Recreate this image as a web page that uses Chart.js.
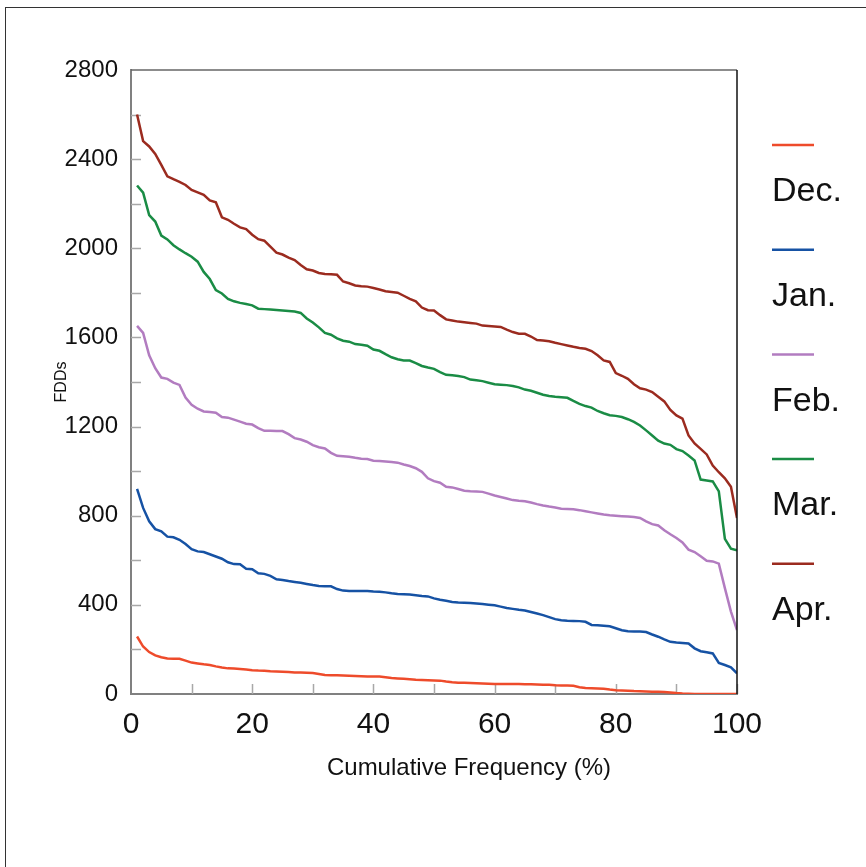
<!DOCTYPE html>
<html>
<head>
<meta charset="utf-8">
<script src="https://cdn.jsdelivr.net/npm/chart.js@4.4.1/dist/chart.umd.min.js"></script>
<style>
  html, body { margin: 0; padding: 0; background: #fff; overflow: hidden; }
  #frame { position: absolute; left: 5px; top: 7px; width: 900px; height: 900px; border: 1px solid #333; }
  #wrap { position: absolute; left: 0; top: 0; width: 866px; height: 867px; }
</style>
</head>
<body>
<div id="frame"></div>
<div id="wrap"><canvas id="chart" width="866" height="867"></canvas></div>
<script>
// cumulative frequency (%) of each ranked value
var FREQ = [
  1, 2, 3, 4, 5, 6, 7, 8, 9, 10, 11, 12, 13, 14, 15, 16, 17, 18, 19, 20,
  21, 22, 23, 24, 25, 26, 27, 28, 29, 30, 31, 32, 33, 34, 35, 36, 37, 38, 39, 40,
  41, 42, 43, 44, 45, 46, 47, 48, 49, 50, 51, 52, 53, 54, 55, 56, 57, 58, 59, 60,
  61, 62, 63, 64, 65, 66, 67, 68, 69, 70, 71, 72, 73, 74, 75, 76, 77, 78, 79, 80,
  81, 82, 83, 84, 85, 86, 87, 88, 89, 90, 91, 92, 93, 94, 95, 96, 97, 98, 99, 100
];

var MONTHS = ['Dec.', 'Jan.', 'Feb.', 'Mar.', 'Apr.'];

var DEC = [
  258, 213, 188, 173, 165, 159, 158, 158, 150, 141, 137, 133, 130, 124, 119, 115, 114, 112, 110, 107,
  105, 104, 102, 101, 100, 99, 97, 96, 95, 94, 90, 85, 84, 84, 83, 82, 81, 80, 79, 78,
  78, 75, 72, 70, 68, 66, 64, 63, 62, 61, 60, 56, 53, 51, 50, 49, 48, 47, 46, 45,
  45, 45, 45, 45, 44, 44, 43, 42, 41, 39, 38, 38, 37, 30, 27, 26, 25, 24, 20, 17,
  16, 15, 13, 12, 11, 10, 10, 9, 7, 4, 2, 1, 0, 0, 0, 0, 0, 0, 0, 0
];

var JAN = [
  920, 835, 775, 740, 730, 706, 703, 692, 673, 650, 640, 637, 627, 617, 607, 591, 583, 582, 562, 560,
  542, 539, 530, 515, 512, 507, 503, 499, 494, 489, 485, 484, 483, 471, 464, 462, 462, 462, 462, 460,
  459, 456, 452, 449, 448, 446, 443, 440, 438, 429, 423, 418, 413, 411, 410, 408, 406, 404, 401, 398,
  392, 386, 382, 378, 375, 368, 361, 354, 345, 336, 331, 329, 328, 327, 324, 310, 308, 306, 304, 295,
  286, 282, 280, 280, 278, 267, 257, 245, 234, 231, 229, 227, 205, 192, 187, 182, 139, 130, 120, 93
];

var FEB = [
  1652, 1620, 1520, 1462, 1420, 1414, 1397, 1387, 1330, 1298, 1280, 1268, 1265, 1262, 1243, 1240, 1231, 1222, 1213, 1209,
  1193, 1181, 1181, 1180, 1180, 1166, 1148, 1142, 1132, 1117, 1107, 1102, 1082, 1069, 1067, 1065, 1060, 1056, 1054, 1047,
  1045, 1043, 1041, 1038, 1030, 1023, 1013, 997, 968, 955, 948, 930, 927, 920, 912, 910, 909, 907, 899, 891,
  884, 877, 870, 867, 865, 859, 852, 846, 841, 837, 831, 830, 829, 825, 820, 815, 810, 805, 802, 800,
  798, 796, 794, 790, 775, 762, 756, 735, 717, 700, 680, 648, 637, 618, 598, 595, 585, 475, 370, 287
];

var MAR = [
  2282, 2250, 2149, 2120, 2057, 2040, 2014, 1995, 1978, 1962, 1940, 1894, 1862, 1812, 1797, 1773, 1762, 1755, 1750, 1744,
  1729, 1727, 1725, 1723, 1721, 1719, 1716, 1710, 1685, 1667, 1645, 1620, 1612, 1596, 1585, 1581, 1570, 1567, 1563, 1546,
  1540, 1525, 1511, 1502, 1497, 1496, 1485, 1472, 1465, 1459, 1444, 1432, 1430, 1427, 1422, 1411, 1408, 1404, 1397, 1390,
  1388, 1386, 1382, 1376, 1366, 1361, 1352, 1343, 1337, 1334, 1332, 1329, 1315, 1302, 1292, 1285, 1270, 1260, 1251, 1248,
  1243, 1233, 1221, 1205, 1183, 1160, 1137, 1124, 1118, 1099, 1090, 1070, 1048, 962, 958, 954, 909, 696, 652, 645
];

var APR = [
  2600, 2481, 2457, 2423, 2374, 2323, 2310, 2298, 2284, 2262, 2251, 2240, 2215, 2206, 2139, 2128, 2110, 2094, 2086, 2061,
  2041, 2034, 2007, 1980, 1972, 1958, 1947, 1925, 1906, 1900, 1889, 1885, 1883, 1881, 1851, 1843, 1833, 1830, 1828, 1822,
  1815, 1807, 1804, 1801, 1787, 1773, 1762, 1734, 1722, 1721, 1700, 1681, 1676, 1671, 1668, 1665, 1662, 1653, 1651, 1649,
  1647, 1635, 1624, 1617, 1616, 1604, 1588, 1586, 1583, 1576, 1570, 1564, 1558, 1553, 1549, 1539, 1520, 1497, 1490, 1440,
  1428, 1414, 1390, 1372, 1366, 1355, 1334, 1313, 1275, 1250, 1236, 1160, 1124, 1100, 1075, 1025, 995, 968, 930, 790
];

var SERIES = [DEC, JAN, FEB, MAR, APR];
var COLORS = ['#EE4B2B', '#1652A4', '#B27CC0', '#1A8C45', '#9B2B1F'];

var FONT = '"Liberation Sans", Arial, Helvetica, sans-serif';

function points(values) {
  return values.map(function (v, i) { return { x: FREQ[i], y: v }; });
}

// minor ticks drawn inside the plot, plus the dark top/right frame
var frameTicks = {
  id: 'frameTicks',
  beforeDatasetsDraw: function (chart) {
    var c = chart.ctx, a = chart.chartArea;
    var xs = chart.scales.x, ys = chart.scales.y;
    c.save();
    c.strokeStyle = '#a8a8a8';
    c.lineWidth = 1.5;
    c.beginPath();
    for (var v = 200; v < 2800; v += 200) {
      var py = Math.round(ys.getPixelForValue(v)) + 0.5;
      c.moveTo(a.left, py);
      c.lineTo(a.left + 10, py);
    }
    for (var f = 10; f <= 100; f += 10) {
      var px = Math.round(xs.getPixelForValue(f)) + 0.5;
      c.moveTo(px, a.bottom);
      c.lineTo(px, a.bottom - 10);
    }
    c.stroke();
    c.restore();
  },
  afterDraw: function (chart) {
    var c = chart.ctx, a = chart.chartArea;
    c.save();
    c.lineWidth = 1.5;
    c.strokeStyle = '#666';
    c.beginPath();
    c.moveTo(a.left, a.top);
    c.lineTo(a.right, a.top);
    c.stroke();
    c.strokeStyle = '#111';
    c.beginPath();
    c.moveTo(a.right, a.top);
    c.lineTo(a.right, a.bottom);
    c.stroke();

    // axis titles
    c.fillStyle = '#111';
    c.font = '16px ' + FONT;
    c.textAlign = 'center';
    c.textBaseline = 'middle';
    c.save();
    c.translate(62, (a.top + a.bottom) / 2);
    c.rotate(-Math.PI / 2);
    c.fillText('FDDs', 0, 0);
    c.restore();
    c.font = '24px ' + FONT;
    c.fillText('Cumulative Frequency (%)', 469, 768);

    // legend: short line above each label
    chart.data.datasets.forEach(function (ds, i) {
      var ly = 145 + i * 104.7;
      c.strokeStyle = ds.borderColor;
      c.lineWidth = 2.5;
      c.beginPath();
      c.moveTo(772, ly);
      c.lineTo(814, ly);
      c.stroke();
      c.fillStyle = '#111';
      c.font = '34px ' + FONT;
      c.textAlign = 'left';
      c.fillText(ds.label, 772, ly + 47);
    });
    c.restore();
  }
};

new Chart(document.getElementById('chart'), {
  type: 'line',
  data: {
    datasets: SERIES.map(function (vals, i) {
      return {
        label: MONTHS[i],
        data: points(vals),
        borderColor: COLORS[i],
        borderWidth: 2.5,
        pointRadius: 0,
        fill: false,
        tension: 0
      };
    })
  },
  options: {
    responsive: false,
    animation: false,
    devicePixelRatio: 1,
    layout: { padding: { left: 0, top: 70, right: 129, bottom: 73 } },
    plugins: { legend: { display: false }, tooltip: { enabled: false } },
    scales: {
      x: {
        type: 'linear',
        min: 0,
        max: 100,
        ticks: { stepSize: 20, color: '#111', font: { size: 30, family: FONT }, padding: 13, maxRotation: 0 },
        grid: { display: false, drawTicks: false },
        border: { display: true, color: '#808080', width: 2 },
        afterFit: function (s) { s.height = 100; }
      },
      y: {
        min: 0,
        max: 2800,
        ticks: {
          stepSize: 400, color: '#111', font: { size: 24, family: FONT }, padding: 13,
          callback: function (v) { return String(v); }
        },
        grid: { display: false, drawTicks: false },
        border: { display: true, color: '#808080', width: 2 },
        afterFit: function (s) { s.width = 131; }
      }
    }
  },
  plugins: [frameTicks]
});
</script>
</body>
</html>
